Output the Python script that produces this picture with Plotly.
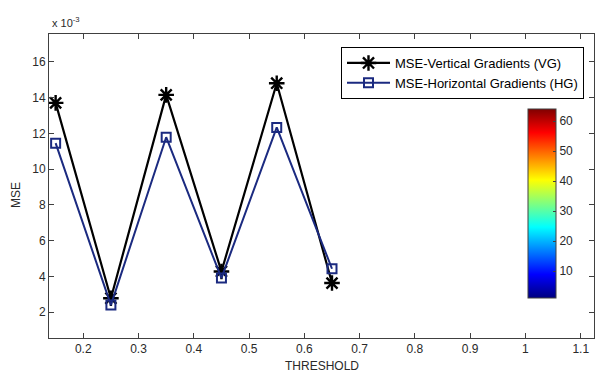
import plotly.graph_objects as go

# Data (MSE values in units of 1e-3)
threshold = [0.15, 0.25, 0.35, 0.45, 0.55, 0.65]
mse_vg = [13.7, 2.78, 14.15, 4.28, 14.8, 3.63]
mse_hg = [11.45, 2.4, 11.78, 3.91, 12.33, 4.43]
x_ticks = [0.2, 0.3, 0.4, 0.5, 0.6, 0.7, 0.8, 0.9, 1.0, 1.1]
x_tick_text = ["0.2", "0.3", "0.4", "0.5", "0.6", "0.7", "0.8", "0.9", "1", "1.1"]
y_ticks = [2, 4, 6, 8, 10, 12, 14, 16]
cbar_ticks = [10, 20, 30, 40, 50, 60]
cbar_range = [1, 64]

FONT = "Liberation Sans, Arial, sans-serif"
TXT = "#2a2a2a"
AX = "#404040"
BLUE = "#1b2a80"

# plot area in pixels
L, R, T, B = 49, 3, 34, 36
W, H = 597 - L - R, 374 - T - B


def px(xp):
    return (xp - L) / W


def py(yp):
    return (374 - B - yp) / H


matlab_jet = [
    [0.0, "rgb(0,0,128)"],
    [0.125, "rgb(0,0,255)"],
    [0.375, "rgb(0,255,255)"],
    [0.625, "rgb(255,255,0)"],
    [0.875, "rgb(255,0,0)"],
    [1.0, "rgb(128,0,0)"],
]

fig = go.Figure()
fig.add_trace(go.Scatter(
    x=threshold, y=mse_vg, mode="lines+markers",
    name="MSE-Vertical Gradients (VG)",
    line=dict(color="black", width=2.2),
    marker=dict(symbol="asterisk-open", size=13, color="black",
                line=dict(color="black", width=2.4)),
))
fig.add_trace(go.Scatter(
    x=threshold, y=mse_hg, mode="lines+markers",
    name="MSE-Horizontal Gradients (HG)",
    line=dict(color=BLUE, width=2),
    marker=dict(symbol="square-open", size=9, color=BLUE,
                line=dict(color=BLUE, width=2)),
))
# colorbar holder
fig.add_trace(go.Scatter(
    x=[None, None], y=[None, None], mode="markers", showlegend=False,
    hoverinfo="skip",
    marker=dict(color=cbar_range, cmin=cbar_range[0], cmax=cbar_range[1],
                colorscale=matlab_jet, showscale=True,
                colorbar=dict(
                    x=px(528), xanchor="left", xref="paper",
                    y=py(203.5), yanchor="middle",
                    lenmode="pixels", len=189, thickness=28,
                    thicknessmode="pixels",
                    xpad=0, ypad=0,
                    outlinewidth=1, outlinecolor=AX,
                    tickvals=cbar_ticks, ticks="inside", ticklen=3,
                    tickcolor=AX,
                    tickfont=dict(family=FONT, size=12, color=TXT),
                )),
))

fig.update_layout(
    width=597, height=374,
    margin=dict(l=L, r=R, t=T, b=B, autoexpand=False),
    paper_bgcolor="white", plot_bgcolor="white",
    font=dict(family=FONT, size=12, color=TXT),
    showlegend=True,
    legend=dict(
        x=px(341), y=py(47), xanchor="left", yanchor="top",
        bordercolor="black", borderwidth=1, bgcolor="white",
        font=dict(family=FONT, size=13, color="black"),
        tracegroupgap=0, itemwidth=43,
    ),
    xaxis=dict(
        range=[0.138, 1.124], tickvals=x_ticks, ticktext=x_tick_text,
        ticks="inside", ticklen=5, tickcolor=AX, showgrid=False,
        zeroline=False, showline=True, linecolor=AX, linewidth=1,
        mirror="allticks", tickfont=dict(family=FONT, size=12, color=TXT),
    ),
    yaxis=dict(
        range=[0.56, 17.55], tickvals=y_ticks,
        ticks="inside", ticklen=5, tickcolor=AX, showgrid=False,
        zeroline=False, showline=True, linecolor=AX, linewidth=1,
        mirror="allticks", tickfont=dict(family=FONT, size=12, color=TXT),
    ),
    annotations=[
        dict(text="x 10<sup>-3</sup>", x=px(50), y=py(22), xref="paper", yref="paper",
             showarrow=False, xanchor="left", yanchor="middle",
             font=dict(family=FONT, size=11, color=TXT)),
        dict(text="THRESHOLD", x=px(322), y=py(366), xref="paper", yref="paper",
             showarrow=False, xanchor="center", yanchor="middle",
             font=dict(family=FONT, size=12, color=TXT)),
        dict(text="MSE", x=px(16), y=py(195), xref="paper", yref="paper",
             showarrow=False, textangle=-90, xanchor="center", yanchor="middle",
             font=dict(family=FONT, size=12, color=TXT)),
    ],
)

fig.write_html(
    "out.html",
    config={"displayModeBar": False},
    post_script="document.body.style.margin='0';document.body.style.padding='0';",
)
